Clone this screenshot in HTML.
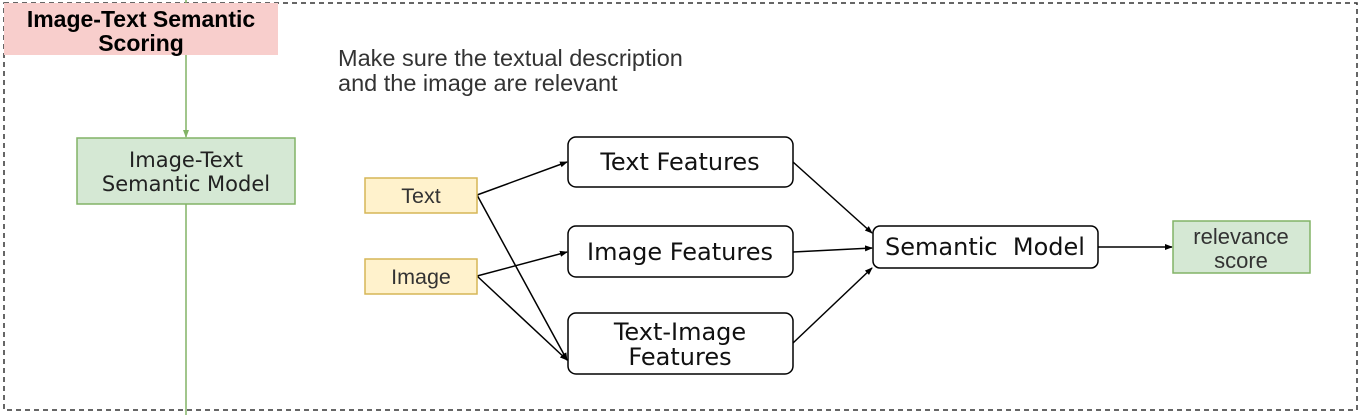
<!DOCTYPE html>
<html><head><meta charset="utf-8"><style>
body{margin:0;width:1362px;height:415px;background:#fff;overflow:hidden}
</style></head><body>
<svg width="1362" height="415" xmlns="http://www.w3.org/2000/svg">
<defs><marker id="a" markerWidth="8" markerHeight="8" refX="7" refY="4" orient="auto" markerUnits="userSpaceOnUse"><path d="M0,1 L8,4 L0,7 Z" fill="#000"/></marker>
<marker id="g" markerWidth="8" markerHeight="8" refX="7" refY="4" orient="auto" markerUnits="userSpaceOnUse"><path d="M0,1 L8,4 L0,7 Z" fill="#82b366"/></marker></defs>
<rect x="4" y="3" width="1353" height="407" fill="none" stroke="#333" stroke-width="1.5" stroke-dasharray="5,4"/>
<line x1="186" y1="0" x2="186" y2="137" stroke="#82b366" stroke-width="1.5" marker-end="url(#g)"/>
<line x1="186" y1="204" x2="186" y2="415" stroke="#82b366" stroke-width="1.5"/>
<rect x="4" y="3" width="274" height="52" fill="#f8cecc"/>
<text x="141" y="27" text-anchor="middle" font-family="Liberation Sans, sans-serif" font-weight="bold" font-size="23" fill="#000">Image-Text Semantic</text>
<text x="141" y="51" text-anchor="middle" font-family="Liberation Sans, sans-serif" font-weight="bold" font-size="23" fill="#000">Scoring</text>
<rect x="77" y="138" width="218" height="66" fill="#d5e8d4" stroke="#82b366" stroke-width="1.5"/>
<text x="186" y="167" text-anchor="middle" font-family="DejaVu Sans, sans-serif" font-size="21" fill="#222">Image-Text</text>
<text x="186" y="191" text-anchor="middle" font-family="DejaVu Sans, sans-serif" font-size="21" fill="#222">Semantic Model</text>
<text x="338" y="66" font-family="Liberation Sans, sans-serif" font-size="23.5" fill="#333">Make sure the textual description</text>
<text x="338" y="91" font-family="Liberation Sans, sans-serif" font-size="23.5" fill="#333">and the image are relevant</text>
<g stroke="#000" stroke-width="1.5" fill="none">
<line x1="477" y1="195" x2="567" y2="162" marker-end="url(#a)"/>
<line x1="477" y1="195" x2="567" y2="360" marker-end="url(#a)"/>
<line x1="477" y1="276" x2="567" y2="252" marker-end="url(#a)"/>
<line x1="477" y1="276" x2="567" y2="360" marker-end="url(#a)"/>
<line x1="793" y1="162" x2="872" y2="233" marker-end="url(#a)"/>
<line x1="793" y1="252" x2="872" y2="248" marker-end="url(#a)"/>
<line x1="793" y1="343" x2="872" y2="268" marker-end="url(#a)"/>
<line x1="1098" y1="247" x2="1172" y2="247" marker-end="url(#a)"/>
</g>
<rect x="365" y="178" width="112" height="35" fill="#fff2cc" stroke="#d6b656" stroke-width="1.5"/>
<text x="421" y="203" text-anchor="middle" font-family="Liberation Sans, sans-serif" font-size="21.5" fill="#333">Text</text>
<rect x="365" y="259" width="112" height="35" fill="#fff2cc" stroke="#d6b656" stroke-width="1.5"/>
<text x="421" y="284" text-anchor="middle" font-family="Liberation Sans, sans-serif" font-size="21.5" fill="#333">Image</text>
<g fill="#fff" stroke="#000" stroke-width="1.5">
<rect x="568" y="137" width="225" height="50" rx="8"/>
<rect x="568" y="226" width="225" height="51" rx="8"/>
<rect x="568" y="313" width="225" height="61" rx="8"/>
<rect x="873" y="226" width="225" height="42" rx="7"/>
</g>
<g font-family="DejaVu Sans, sans-serif" font-size="24" fill="#111" text-anchor="middle">
<text x="680" y="170">Text Features</text>
<text x="680" y="260">Image Features</text>
<text x="680" y="340">Text-Image</text>
<text x="680" y="365">Features</text>
<text x="985" y="255" xml:space="preserve">Semantic  Model</text>
</g>
<rect x="1173" y="221" width="137" height="52" fill="#d5e8d4" stroke="#82b366" stroke-width="1.5"/>
<text x="1241" y="244" text-anchor="middle" font-family="Liberation Sans, sans-serif" font-size="22" fill="#333">relevance</text>
<text x="1241" y="268" text-anchor="middle" font-family="Liberation Sans, sans-serif" font-size="22" fill="#333">score</text>
</svg>
</body></html>
